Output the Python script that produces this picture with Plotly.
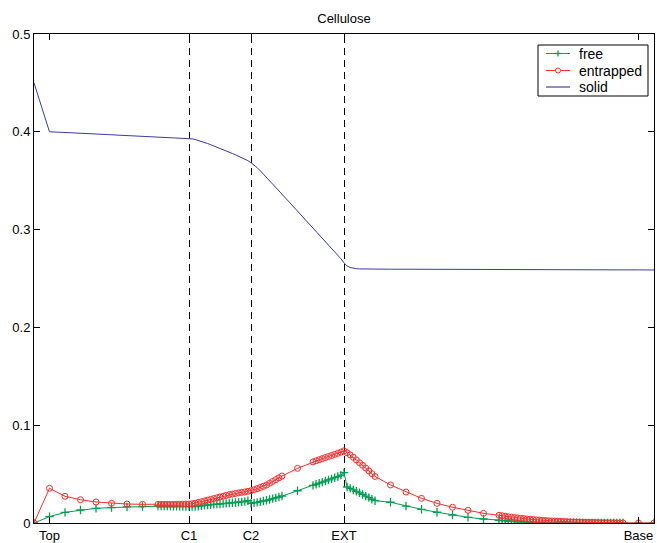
import numpy as np
import plotly.graph_objects as go

# Sampling grid along the column (coarse and refined zones)
x_pos = np.round(np.concatenate([
    np.arange(0, 8),                 # coarse, top section
    np.arange(8.0, 16.01, 0.2),      # refined through C1 / C2
    [17.0],
    np.arange(18.0, 22.01, 0.2),     # refined around EXT
    np.arange(23, 30),               # coarse, lower section
    np.arange(30.0, 38.01, 0.2),     # refined, lower section
    [39.0, 40.0],
]), 1)

free = [
    0.0, 0.0065, 0.0109, 0.0133, 0.0150, 0.0158, 0.0164, 0.0168,
    # 8.0 .. 16.0
    0.0174, 0.0174, 0.0174, 0.0174, 0.0173, 0.0172, 0.0171, 0.0170, 0.0169, 0.0168,
    0.0167, 0.0167, 0.0168, 0.0172, 0.0176, 0.0180, 0.0184, 0.0187, 0.0190, 0.0193,
    0.0195, 0.0198, 0.0201, 0.0204, 0.0207, 0.0210, 0.0213, 0.0216, 0.0220, 0.0228,
    0.0202, 0.0206, 0.0211, 0.0218, 0.0225, 0.0232, 0.0240, 0.0249, 0.0257, 0.0266,
    0.0276,
    # 17
    0.0330,
    # 18.0 .. 22.0
    0.0385, 0.0396, 0.0407, 0.0418, 0.0429, 0.0440, 0.0451, 0.0463, 0.0475, 0.0490,
    0.0515, 0.0368, 0.0354, 0.0338, 0.0324, 0.0309, 0.0292, 0.0275, 0.0259, 0.0243,
    0.0228,
    # 23 .. 29
    0.0212, 0.0173, 0.0140, 0.0110, 0.0082, 0.0058, 0.0041,
    # 30.0 .. 38.0
    0.0028, 0.0025, 0.0022, 0.0019, 0.0016, 0.0014, 0.0012, 0.0011, 0.0010, 0.0009,
    0.0008, 0.0007, 0.0006, 0.0006, 0.0005, 0.0005, 0.0004, 0.0004, 0.0003, 0.0003,
    0.0003, 0.0002, 0.0002, 0.0002, 0.0002, 0.0002, 0.0001, 0.0001, 0.0001, 0.0001,
    0.0001, 0.0001, 0.0001, 0.0001, 0.0000, 0.0000, 0.0000, 0.0000, 0.0000, 0.0000,
    0.0000,
    # 39, 40
    0.0, 0.0,
]

entrapped = [
    0.0, 0.0355, 0.0273, 0.0238, 0.0215, 0.0201, 0.0194, 0.0191,
    # 8.0 .. 16.0
    0.0190, 0.0190, 0.0190, 0.0190, 0.0190, 0.0190, 0.0191, 0.0191, 0.0192, 0.0193,
    0.0194, 0.0197, 0.0202, 0.0210, 0.0218, 0.0226, 0.0234, 0.0242, 0.0250, 0.0258,
    0.0266, 0.0274, 0.0282, 0.0290, 0.0296, 0.0302, 0.0308, 0.0313, 0.0318, 0.0324,
    0.0330, 0.0340, 0.0351, 0.0363, 0.0376, 0.0389, 0.0406, 0.0425, 0.0444, 0.0462,
    0.0480,
    # 17
    0.0559,
    # 18.0 .. 22.0
    0.0625, 0.0636, 0.0647, 0.0658, 0.0669, 0.0680, 0.0690, 0.0701, 0.0713, 0.0725,
    0.0738, 0.0718, 0.0696, 0.0672, 0.0645, 0.0617, 0.0590, 0.0562, 0.0534, 0.0505,
    0.0476,
    # 23 .. 29
    0.0389, 0.0317, 0.0252, 0.0201, 0.0161, 0.0130, 0.0099,
    # 30.0 .. 38.0
    0.0079, 0.0074, 0.0069, 0.0064, 0.0060, 0.0056, 0.0052, 0.0048, 0.0045, 0.0041,
    0.0038, 0.0035, 0.0032, 0.0030, 0.0027, 0.0025, 0.0023, 0.0021, 0.0019, 0.0017,
    0.0016, 0.0014, 0.0013, 0.0012, 0.0011, 0.0010, 0.0009, 0.0008, 0.0007, 0.0006,
    0.0006, 0.0005, 0.0004, 0.0004, 0.0003, 0.0003, 0.0002, 0.0002, 0.0001, 0.0001,
    0.0001,
    # 39, 40
    0.0, 0.0,
]

solid = [
    0.4500, 0.4000, 0.3993, 0.3986, 0.3978, 0.3971, 0.3963, 0.3956,
    # 8.0 .. 16.0
    0.3948, 0.3947, 0.3945, 0.3944, 0.3942, 0.3941, 0.3939, 0.3938, 0.3936, 0.3935,
    0.3933, 0.3928, 0.3921, 0.3912, 0.3902, 0.3891, 0.3880, 0.3868, 0.3856, 0.3844,
    0.3831, 0.3818, 0.3805, 0.3792, 0.3778, 0.3764, 0.3750, 0.3736, 0.3722, 0.3705,
    0.3684, 0.3661, 0.3633, 0.3601, 0.3568, 0.3534, 0.3500, 0.3466, 0.3431, 0.3397,
    0.3362,
    # 17
    0.3189,
    # 18.0 .. 22.0
    0.3016, 0.2982, 0.2947, 0.2913, 0.2878, 0.2844, 0.2810, 0.2775, 0.2741, 0.2702,
    0.2660, 0.2628, 0.2612, 0.2604, 0.2600, 0.2598, 0.2597, 0.2597, 0.2596, 0.2596,
    0.2596,
    # 23 .. 29
    0.2595, 0.2595, 0.2594, 0.2594, 0.2593, 0.2593, 0.2592,
    # 30.0 .. 38.0
    0.2592, 0.2592, 0.2592, 0.2592, 0.2592, 0.2591, 0.2591, 0.2591, 0.2591, 0.2591,
    0.2591, 0.2591, 0.2591, 0.2590, 0.2590, 0.2590, 0.2590, 0.2590, 0.2590, 0.2590,
    0.2590, 0.2590, 0.2589, 0.2589, 0.2589, 0.2589, 0.2589, 0.2589, 0.2589, 0.2589,
    0.2589, 0.2588, 0.2588, 0.2588, 0.2588, 0.2588, 0.2588, 0.2588, 0.2588, 0.2588,
    0.2588,
    # 39, 40
    0.2588, 0.2587,
]

# Section markers along the column
section_names = ["Top", "C1", "C2", "EXT", "Base"]
section_pos = [1, 10, 14, 20, 39]
divider_pos = [10, 14, 20]

y_ticks = [0, 0.1, 0.2, 0.3, 0.4, 0.5]

series_names = ["free", "entrapped", "solid"]
series_colors = ["#00a050", "#ff2a2a", "#3a3aa8"]
legend_colors = ["#00a050", "#ff2a2a", "#1e1e8c"]

FONT = "Liberation Sans, Arial, Helvetica, sans-serif"

W, H = 657, 543
M = dict(l=34, r=3, t=34, b=20)
PW, PH = W - M["l"] - M["r"], H - M["t"] - M["b"]


def px_to_paper(px, py):
    """Pixel position in the page -> paper coordinates of the plot area."""
    return (px - M["l"]) / PW, (H - M["b"] - py) / PH


fig = go.Figure()

fig.add_trace(go.Scatter(
    x=x_pos, y=free, name=series_names[0], mode="lines+markers",
    line=dict(color=series_colors[0], width=1),
    marker=dict(symbol="cross-thin", size=6, line=dict(color=series_colors[0], width=1.3)),
))
fig.add_trace(go.Scatter(
    x=x_pos, y=entrapped, name=series_names[1], mode="lines+markers",
    line=dict(color=series_colors[1], width=1),
    marker=dict(symbol="circle-open", size=6, color=series_colors[1], line=dict(width=1)),
))
fig.add_trace(go.Scatter(
    x=x_pos, y=solid, name=series_names[2], mode="lines",
    line=dict(color=series_colors[2], width=1),
))

# Dashed section dividers; anchored at the section position, with a
# half-pixel offset so the 1px stroke sits on a single pixel column
for xv in divider_pos:
    fig.add_shape(type="line", xref="x", yref="y", xsizemode="pixel", xanchor=xv,
                  x0=0.5, x1=0.5, y0=0, y1=0.5,
                  line=dict(color="black", width=1, dash="7px,5px"), layer="below")

# Boxed legend in the upper right corner
box_x0, box_y0 = px_to_paper(538, 45)
box_x1, box_y1 = px_to_paper(648, 96)
fig.add_shape(type="rect", xref="paper", yref="paper",
              x0=box_x0, x1=box_x1, y0=box_y1, y1=box_y0,
              line=dict(color="black", width=1), fillcolor="white", layer="above")
row_py = [53.5, 70.5, 87]
for i, (name, col) in enumerate(zip(series_names, legend_colors)):
    lx0, ly = px_to_paper(546, row_py[i])
    lx1, _ = px_to_paper(570, row_py[i])
    fig.add_shape(type="line", xref="paper", yref="paper",
                  x0=lx0, x1=lx1, y0=ly, y1=ly,
                  line=dict(color=col, width=1), layer="above")
    cx, cy = px_to_paper(558, row_py[i])
    if name == "free":
        hx0, _ = px_to_paper(555, 0)
        hx1, _ = px_to_paper(561, 0)
        _, vy0 = px_to_paper(0, row_py[i] - 3)
        _, vy1 = px_to_paper(0, row_py[i] + 3)
        fig.add_shape(type="line", xref="paper", yref="paper", x0=hx0, x1=hx1, y0=cy, y1=cy,
                      line=dict(color=col, width=1.3), layer="above")
        fig.add_shape(type="line", xref="paper", yref="paper", x0=cx, x1=cx, y0=vy0, y1=vy1,
                      line=dict(color=col, width=1.3), layer="above")
    elif name == "entrapped":
        ex0, ey0 = px_to_paper(555.5, row_py[i] + 2.5)
        ex1, ey1 = px_to_paper(560.5, row_py[i] - 2.5)
        fig.add_shape(type="circle", xref="paper", yref="paper",
                      x0=ex0, x1=ex1, y0=ey0, y1=ey1,
                      line=dict(color=col, width=1), fillcolor="white", layer="above")
    tx, ty = px_to_paper(577, row_py[i])
    fig.add_annotation(x=tx, y=ty, xref="paper", yref="paper", text=name,
                       showarrow=False, xanchor="left", yanchor="middle",
                       font=dict(family=FONT, size=14, color="black"))

axis_common = dict(
    showline=True, linecolor="black", linewidth=1, mirror="ticks",
    ticks="inside", ticklen=6, tickcolor="black", showgrid=False, zeroline=False,
    automargin=False,
    tickfont=dict(family=FONT, size=13, color="black"),
)

fig.update_layout(
    width=W, height=H,
    margin=M,
    paper_bgcolor="white", plot_bgcolor="white",
    font=dict(family=FONT, size=13, color="black"),
    title=dict(text="Cellulose", x=0.5, xref="paper", xanchor="center",
               y=1 - 18 / H, yref="container", yanchor="middle",
               font=dict(family=FONT, size=13, color="black"), automargin=False),
    xaxis=dict(range=[0, 40], tickvals=section_pos, ticktext=section_names,
               ticklabelstandoff=0, **axis_common),
    yaxis=dict(range=[0, 0.5], tickvals=y_ticks, ticktext=[f"{v:g}" for v in y_ticks],
               **axis_common),
    showlegend=False,
)

fig.write_html("out.html")
